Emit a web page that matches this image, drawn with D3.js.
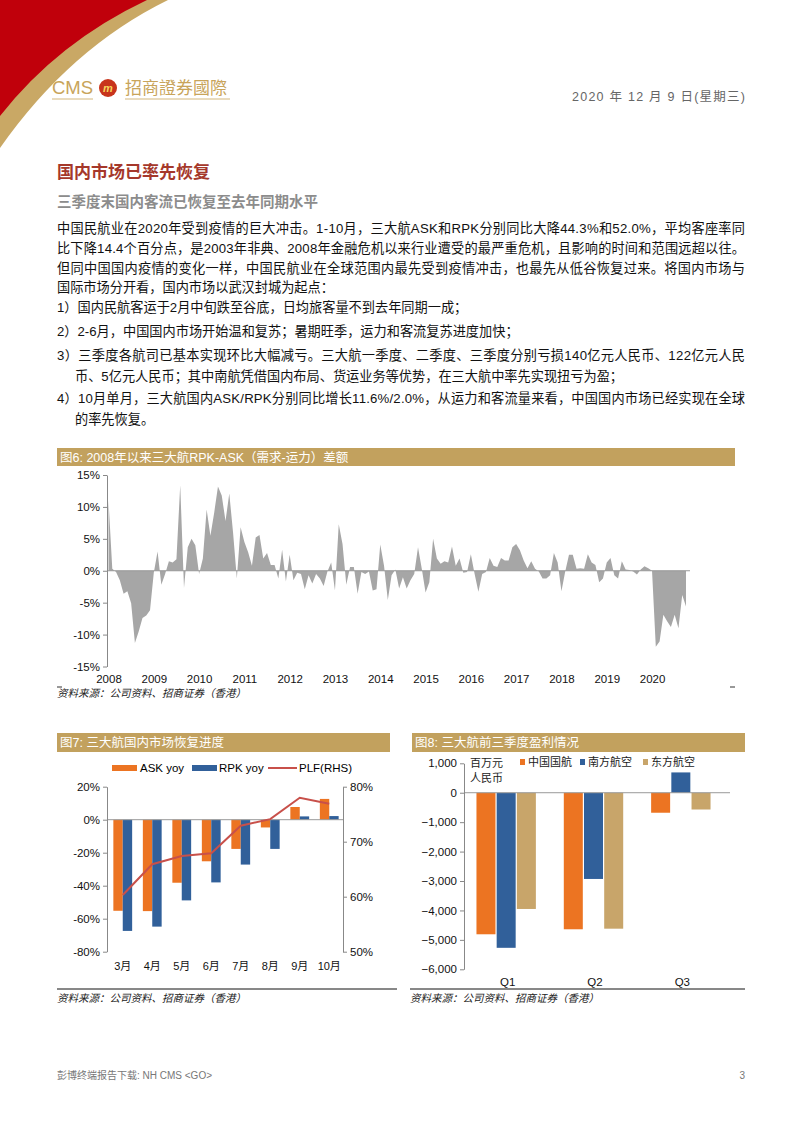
<!DOCTYPE html>
<html><head><meta charset="utf-8">
<script src="https://cdn.jsdelivr.net/npm/d3@7/dist/d3.min.js"></script>
<style>
body{margin:0;background:#fff;}
svg text{font-family:'Liberation Sans','Noto Sans CJK SC',sans-serif;}
</style></head>
<body><svg id="page" width="794" height="1122"></svg>
<script>
// ---------- DATA ----------
// Fig6: monthly RPK-ASK gap (%), Jan 2008 - Oct 2020
const gapYears = ['2008','2009','2010','2011','2012','2013','2014','2015','2016','2017','2018','2019','2020'];
const gapValues = [
 11.0, 0.3, -0.2, -1.5, -3.6, -3.2, -5.1, -11.3, -9.5, -7.4, -7.0, -6.2,
 -0.3, 3.0, -2.2, -0.5, 1.5, 1.3, 1.8, 13.4, -2.7, 3.7, 5.0, 4.0,
 -0.5, 1.9, 9.6, 5.5, 9.1, 13.2, 11.8, 7.8, 12.1, 6.0, -1.2, 6.8,
 4.5, 2.9, 0.8, 5.2, 5.6, 1.9, 2.8, 0.9, 0.9, -1.2, 3.3, -1.7,
 2.5, -1.5, -0.3, -0.5, -2.9, -0.7, -2.0, -0.5, -1.2, -2.4, -0.1, 1.3,
 -3.1, 7.3, 4.2, -2.2, 0.6, 0.6, -3.6, -0.2, -0.5, -0.1, -3.1, -2.9,
 4.1, 0.8, -4.6, -0.7, 0.2, -2.8, -1.0, -2.8, -1.5, -0.5, 3.7, 0.3,
 -3.4, -1.8, 5.0, 1.9, 1.1, 1.5, 1.3, 3.8, 0.8, 1.9, -0.3, -0.2,
 2.6, -0.5, -3.3, -0.5, -0.2, 2.0, 0.8, 0.6, 2.0, 1.6, 1.6, 3.7,
 4.2, 3.2, 1.6, 0.4, 1.5, 0.3, -0.1, -1.2, -1.2, -0.7, 2.8, 1.3,
 -3.2, -0.1, 2.5, 2.5, 0.3, 0.4, 0.3, 2.6, 1.3, 0.9, -1.8, -1.2,
 1.3, 2.0, -0.7, -1.2, 1.5, 0.2, 0.1, -0.1, -0.6, 0.2, 0.7, 0.4,
 0.0, -11.9, -11.1, -6.9, -7.9, -8.8, -6.9, -9.0, -3.8, -5.6
];
const gapTicks = [-15,-10,-5,0,5,10,15];

// Fig7
const months = ['3月','4月','5月','6月','7月','8月','9月','10月'];
const askYoy = [-55.2,-55.4,-38.2,-25.2,-17.7,-4.7,7.7,12.6];
const rpkYoy = [-67.4,-64.8,-48.9,-38.0,-27.2,-17.7,2.0,2.2];
const plf = [60.3,65.9,67.4,67.9,72.9,74.1,78.0,76.9];
const fig7LeftTicks = [-80,-60,-40,-20,0,20];
const fig7RightTicks = [50,60,70,80];
const fig7Legend = ['ASK yoy','RPK yoy','PLF(RHS)'];

// Fig8
const quarters = ['Q1','Q2','Q3'];
const airChina = [-4810,-4640,-680];
const chinaSouthern = [-5270,-2930,690];
const chinaEastern = [-3950,-4620,-570];
const fig8Ticks = [-6000,-5000,-4000,-3000,-2000,-1000,0,1000];
const fig8Legend = ['中国国航','南方航空','东方航空'];

// ---------- STYLE ----------
const GOLD = '#C2A15E', ORANGE = '#EC7422', BLUE = '#31609A', TAN = '#C8A56A', RED = '#C8504A', GREY = '#A6A6A6';

const svg = d3.select('#page');

// ---------- HEADER ----------
svg.append('path').attr('d','M0,0 L168,0 Q70,48 0,148 Z').attr('fill','#C9A865');
svg.append('path').attr('d','M0,0 L147,0 Q58,42 0,116 Z').attr('fill','#C0000B');
svg.append('text').attr('x',52).attr('y',94).attr('fill','#C8A45A').attr('font-size',18.5).text('CMS');
svg.append('circle').attr('cx',108).attr('cy',88).attr('r',9).attr('fill','#C8341C');
svg.append('text').attr('x',108).attr('y',92).attr('text-anchor','middle').attr('fill','#F6D35A')
  .attr('font-size',11).attr('font-style','italic').attr('font-weight','bold').text('m');
svg.append('text').attr('x',125).attr('y',94).attr('fill','#C8A45A').attr('font-size',17).text('招商證券國際');
svg.append('line').attr('x1',52).attr('x2',93).attr('y1',99).attr('y2',99).attr('stroke','#C8A45A').attr('stroke-width',0.8);
svg.append('line').attr('x1',125).attr('x2',230).attr('y1',99).attr('y2',99).attr('stroke','#C8A45A').attr('stroke-width',0.8);
svg.append('text').attr('x',572).attr('y',101).attr('fill','#666').attr('font-size',12.5)
  .attr('textLength',173).attr('lengthAdjust','spacing')
  .text('2020 年 12 月 9 日(星期三)');

// ---------- TITLES & BODY ----------
svg.append('text').attr('x',57).attr('y',178).attr('fill','#A5382B').attr('font-size',17).attr('font-weight','bold').text('国内市场已率先恢复');
svg.append('text').attr('x',57).attr('y',207).attr('fill','#8C8C8C').attr('font-size',14.5).attr('font-weight','bold').text('三季度末国内客流已恢复至去年同期水平');

const bodyLines = [
 {t:'中国民航业在2020年受到疫情的巨大冲击。1-10月，三大航ASK和RPK分别同比大降44.3%和52.0%，平均客座率同', y:233, x:57, j:true},
 {t:'比下降14.4个百分点，是2003年非典、2008年金融危机以来行业遭受的最严重危机，且影响的时间和范围远超以往。', y:253, x:57, j:true},
 {t:'但同中国国内疫情的变化一样，中国民航业在全球范围内最先受到疫情冲击，也最先从低谷恢复过来。将国内市场与', y:273, x:57, j:true},
 {t:'国际市场分开看，国内市场以武汉封城为起点：', y:292, x:57, j:false},
 {t:'1）国内民航客运于2月中旬跌至谷底，日均旅客量不到去年同期一成；', y:312, x:57, j:false},
 {t:'2）2-6月，中国国内市场开始温和复苏；暑期旺季，运力和客流复苏进度加快；', y:336, x:57, j:false},
 {t:'3）三季度各航司已基本实现环比大幅减亏。三大航一季度、二季度、三季度分别亏损140亿元人民币、122亿元人民', y:360, x:57, j:true},
 {t:'币、5亿元人民币；其中南航凭借国内布局、货运业务等优势，在三大航中率先实现扭亏为盈；', y:381, x:75, j:false},
 {t:'4）10月单月，三大航国内ASK/RPK分别同比增长11.6%/2.0%，从运力和客流量来看，中国国内市场已经实现在全球', y:403, x:57, j:true},
 {t:'的率先恢复。', y:424, x:75, j:false}
];
bodyLines.forEach(l=>{
  const t = svg.append('text').attr('x',l.x).attr('y',l.y).attr('font-size',13.2).attr('fill','#111').text(l.t);
  if(l.j) t.attr('textLength',745-l.x).attr('lengthAdjust','spacing');
});

function header(x1,x2,y,h,label){
  svg.append('rect').attr('x',x1).attr('y',y).attr('width',x2-x1).attr('height',h).attr('fill',GOLD);
  svg.append('text').attr('x',x1+3).attr('y',y+h/2+4.5).attr('fill','#fff').attr('font-size',12.5).text(label);
}
function source(x,y){
  svg.append('text').attr('x',x).attr('y',y).attr('font-size',10.5).attr('font-style','italic').attr('fill','#222')
    .text('资料来源：公司资料、招商证券（香港）');
}

// ---------- FIG 6 ----------
header(57,735,448,18,'图6:  2008年以来三大航RPK-ASK（需求-运力）差额');
const x6 = d3.scaleLinear().domain([0,gapValues.length-1]).range([108.5,686]);
const y6 = d3.scaleLinear().domain([-15,15]).range([666.5,475]);
const g6 = svg.append('g');
g6.append('path').datum(gapValues)
  .attr('d', d3.area().x((d,i)=>x6(i)).y0(y6(0)).y1(d=>y6(d)))
  .attr('fill',GREY);
g6.append('line').attr('x1',107).attr('x2',690).attr('y1',y6(0)).attr('y2',y6(0)).attr('stroke','#999').attr('stroke-width',1);
const ax6 = g6.append('g').attr('transform','translate(107,0)')
  .call(d3.axisLeft(y6).tickValues(gapTicks).tickFormat(d=>d+'%').tickSize(4).tickSizeOuter(0));
ax6.selectAll('path,line').attr('stroke','#888');
ax6.selectAll('text').attr('font-size',11.5).attr('fill','#111').attr('font-family',"'Liberation Sans',sans-serif");
const xb6 = g6.append('g').attr('transform','translate(0,670)')
  .call(d3.axisBottom(x6).tickValues(gapYears.map((d,i)=>i*12)).tickFormat((d,i)=>gapYears[i]).tickSize(0));
xb6.select('.domain').remove();
xb6.selectAll('text').attr('font-size',11.5).attr('fill','#111').attr('dy','0.9em').attr('font-family',"'Liberation Sans',sans-serif");
svg.append('line').attr('x1',57).attr('x2',62).attr('y1',687).attr('y2',687).attr('stroke','#333');
svg.append('line').attr('x1',730).attr('x2',735).attr('y1',687).attr('y2',687).attr('stroke','#333');
source(57,697);

// ---------- FIG 7 ----------
header(57,390,733,19,'图7:  三大航国内市场恢复进度');
const x7 = d3.scaleBand().domain(months).range([107,343]);
const y7 = d3.scaleLinear().domain([-80,20]).range([951.7,786.7]);
const y7r = d3.scaleLinear().domain([50,80]).range([951.7,786.7]);
const bw7 = 9.4;
const g7 = svg.append('g');
g7.selectAll('.ask').data(askYoy).enter().append('rect')
  .attr('x',(d,i)=>x7(months[i])+x7.bandwidth()/2-bw7+1).attr('width',bw7)
  .attr('y',d=>Math.min(y7(0),y7(d))).attr('height',d=>Math.abs(y7(d)-y7(0))).attr('fill',ORANGE);
g7.selectAll('.rpk').data(rpkYoy).enter().append('rect')
  .attr('x',(d,i)=>x7(months[i])+x7.bandwidth()/2+1).attr('width',bw7)
  .attr('y',d=>Math.min(y7(0),y7(d))).attr('height',d=>Math.abs(y7(d)-y7(0))).attr('fill',BLUE);
g7.append('line').attr('x1',107).attr('x2',343).attr('y1',y7(0)).attr('y2',y7(0)).attr('stroke','#999');
g7.append('path').datum(plf)
  .attr('d', d3.line().x((d,i)=>x7(months[i])+x7.bandwidth()/2+1).y(d=>y7r(d)))
  .attr('fill','none').attr('stroke',RED).attr('stroke-width',2);
const al7 = g7.append('g').attr('transform','translate(107,0)')
  .call(d3.axisLeft(y7).tickValues(fig7LeftTicks).tickFormat(d=>d+'%').tickSize(4).tickSizeOuter(0));
const ar7 = g7.append('g').attr('transform','translate(343,0)')
  .call(d3.axisRight(y7r).tickValues(fig7RightTicks).tickFormat(d=>d+'%').tickSize(4).tickSizeOuter(0));
[al7,ar7].forEach(a=>{a.selectAll('path,line').attr('stroke','#888');
  a.selectAll('text').attr('font-size',11.5).attr('fill','#111').attr('font-family',"'Liberation Sans',sans-serif");});
const xb7 = g7.append('g').attr('transform','translate(1,957)')
  .call(d3.axisBottom(x7).tickSize(0));
xb7.select('.domain').remove();
xb7.selectAll('text').attr('font-size',11).attr('fill','#111').attr('dy','0.9em');
// legend
const lg7 = svg.append('g');
lg7.append('rect').attr('x',112).attr('y',765).attr('width',25).attr('height',6).attr('fill',ORANGE);
lg7.append('text').attr('x',140).attr('y',772).attr('font-size',11.5).text(fig7Legend[0]);
lg7.append('rect').attr('x',192).attr('y',765).attr('width',25).attr('height',6).attr('fill',BLUE);
lg7.append('text').attr('x',219).attr('y',772).attr('font-size',11.5).text(fig7Legend[1]);
lg7.append('line').attr('x1',268).attr('x2',297).attr('y1',768).attr('y2',768).attr('stroke',RED).attr('stroke-width',2);
lg7.append('text').attr('x',299).attr('y',772).attr('font-size',11.5).text(fig7Legend[2]);
svg.append('line').attr('x1',57).attr('x2',397).attr('y1',989).attr('y2',989).attr('stroke','#111').attr('stroke-width',1);
source(57,1002);

// ---------- FIG 8 ----------
header(412,745,733,19,'图8:  三大航前三季度盈利情况');
const x8 = d3.scaleBand().domain(quarters).range([464,726]);
const y8 = d3.scaleLinear().domain([-6000,1000]).range([969.3,763.3]);
const bw8 = 19, gap8 = 1.2;
const series8 = [airChina, chinaSouthern, chinaEastern];
const colors8 = [ORANGE, BLUE, TAN];
const g8 = svg.append('g');
series8.forEach((s,k)=>{
  g8.selectAll('.s'+k).data(s).enter().append('rect')
    .attr('x',(d,i)=>x8(quarters[i])+x8.bandwidth()/2 - (3*bw8+2*gap8)/2 + k*(bw8+gap8) - 1.5)
    .attr('width',bw8)
    .attr('y',d=>Math.min(y8(0),y8(d))).attr('height',d=>Math.abs(y8(d)-y8(0))).attr('fill',colors8[k]);
});
g8.append('line').attr('x1',464).attr('x2',730).attr('y1',y8(0)).attr('y2',y8(0)).attr('stroke','#999');
const al8 = g8.append('g').attr('transform','translate(464,0)')
  .call(d3.axisLeft(y8).tickValues(fig8Ticks).tickFormat(d3.format(',')).tickSize(4).tickSizeOuter(0));
al8.selectAll('path,line').attr('stroke','#888');
al8.selectAll('text').attr('font-size',11.5).attr('fill','#111').attr('font-family',"'Liberation Sans',sans-serif");
const xb8 = g8.append('g').attr('transform','translate(0,973)').call(d3.axisBottom(x8).tickSize(0));
xb8.select('.domain').remove();
xb8.selectAll('text').attr('font-size',11.5).attr('fill','#111').attr('dy','0.9em').attr('font-family',"'Liberation Sans',sans-serif");
svg.append('text').attr('x',470).attr('y',767).attr('font-size',11).attr('fill','#222').text('百万元');
svg.append('text').attr('x',470).attr('y',782).attr('font-size',11).attr('fill','#222').text('人民币');
const lx8 = [520,580,643];
fig8Legend.forEach((t,k)=>{
  svg.append('rect').attr('x',lx8[k]).attr('y',759).attr('width',5).attr('height',6).attr('fill',colors8[k]);
  svg.append('text').attr('x',lx8[k]+8).attr('y',766).attr('font-size',11).attr('fill','#222').text(t);
});
svg.append('line').attr('x1',410).attr('x2',745).attr('y1',989).attr('y2',989).attr('stroke','#111').attr('stroke-width',1);
source(410,1002);

// ---------- FOOTER ----------
svg.append('text').attr('x',57).attr('y',1079).attr('font-size',10).attr('fill','#777').text('彭博终端报告下载: NH CMS <GO>');
svg.append('text').attr('x',745).attr('y',1079).attr('text-anchor','end').attr('font-size',10).attr('fill','#777').text('3');
</script></body></html>
